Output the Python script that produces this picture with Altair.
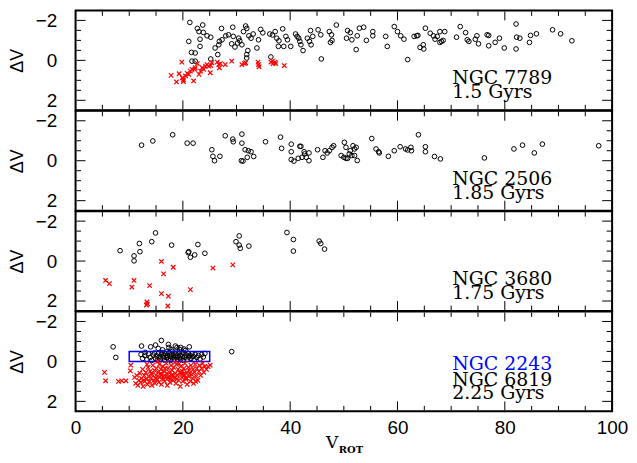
import altair as alt
import pandas as pd

# ---------------- axis / tick values ----------------
x_label_values = [0, 20, 40, 60, 80, 100]
x_major_ticks = [0, 20, 40, 60, 80, 100]
x_minor_ticks = [5, 10, 15, 25, 30, 35, 45, 50, 55, 65, 70, 75, 85, 90, 95]
y_label_values = [-2, 0, 2]
y_major_ticks = [-2, 0, 2]
y_minor_ticks = [-1.5, -1, -0.5, 0.5, 1, 1.5]

# ---------------- NGC 7789 ----------------
n7789_circ_x = [21.3, 21.1, 21.6, 22.3, 21.7, 22.3, 22.7, 23.0, 23.7, 23.2, 23.2, 23.8, 24.5, 25.2, 25.2,
                26.0, 26.5, 26.7, 26.8, 27.2, 27.3, 28.0, 28.5, 29.1, 29.3, 29.4, 29.7, 30.2, 30.4, 30.6,
                31.0, 31.3, 31.7, 31.9, 32.1, 31.9, 31.9, 32.3, 32.7, 33.1, 33.8, 34.1, 34.5, 34.9, 36.2,
                36.4, 36.7, 37.2, 37.5, 37.8, 37.9, 38.6, 38.8, 39.2, 39.5, 40.1, 41.0, 41.3, 41.6, 41.8,
                42.0, 42.4, 43.2, 43.6, 43.8, 43.9, 44.2,
                45.2, 45.7, 45.8, 47.3, 47.7, 47.5, 47.8, 48.6, 50.7, 51.2, 50.5, 51.5, 52.3, 52.5, 52.9,
                53.7, 54.2, 55.4, 55.4, 57.8, 58.1, 59.4, 60.0, 60.6, 61.2, 61.9, 63.1, 63.6, 63.8, 64.2,
                64.8, 64.9, 65.2, 66.1, 66.7, 67.0, 67.4, 67.9, 67.9, 68.2, 68.5, 68.8, 71.0, 71.7, 72.7,
                73.0, 73.3, 74.5, 74.8, 75.1, 76.7, 77.0, 77.0, 78.2, 79.0, 79.9, 82.1, 82.2, 82.1, 82.8,
                84.6, 84.8, 85.9, 88.9, 90.4, 92.5]
n7789_circ_y = [-1.9, -0.95, -0.4, -0.37, 0.04, 0.04, -1.6, -1.44, -1.77, -1.06, -0.7, -1.4, -1.23, -1.16, -0.07,
                -0.62, -0.29, -0.78, -0.95, -1.6, -1.03, -1.23, -1.28, -0.83, -1.66, -1.2, -0.67, -0.87, -1.11, -0.98,
                -0.78, -1.44, -1.72, -1.6, -0.49, -0.29, -0.12, -1.23, -1.11, -1.32, -0.62, -1.03, -1.55, -1.38, -1.32,
                -0.17, -1.27, -1.44, -1.11, -0.7, -0.98, -1.58, -0.7, -1.2, -1.03, -0.7, -1.32, -1.2, -1.11, -0.95,
                -0.78, -0.49, -1.11, -0.95, -1.49, -0.78, -1.2,
                -1.53, -1.28, -0.07, -1.44, -1.28, -0.9, -1.0, -1.77, -1.49, -1.39, -1.11, -1.03, -0.54, -1.23, -1.61,
                -1.66, -1.0, -1.44, -1.23, -1.2, -0.7, -1.69, -1.44, -1.23, -1.06, -0.04, -1.2, -1.23, -1.25, -0.65,
                -0.78, -0.57, -1.61, -1.36, -1.23, -1.06, -1.2, -1.44, -0.9, -0.95, -1.0, -1.44, -1.16, -1.69, -1.39,
                -1.03, -0.95, -1.06, -1.23, -0.83, -1.28, -1.25, -0.73, -0.9, -1.11, -0.62, -1.82, -1.16, -0.57, -1.11,
                -0.9, -1.25, -1.33, -1.53, -1.33, -0.98]
n7789_cross_x = [17.8, 18.8, 19.3, 19.8, 19.9, 20.1, 20.1, 20.5, 20.8, 21.1, 21.4, 21.7, 22.0, 22.2, 22.3,
                 22.7, 23.0, 23.3, 23.6, 23.9, 24.2, 24.5, 24.8, 25.1, 25.2, 25.4, 26.4, 26.7, 26.8, 27.0,
                 27.9, 29.1, 31.0, 31.5, 31.7, 34.0, 34.1, 34.2, 36.4, 36.8, 37.2, 37.3, 38.9, 36.7]
n7789_cross_y = [0.75, 1.08, 0.67, 0.09, 0.87, 0.98, 1.06, 0.78, 0.65, 0.70, 0.54, 0.45, 1.03, 0.45, 0.37,
                 0.16, 0.70, 0.54, 0.37, 0.45, 0.29, 0.21, 0.29, 0.62, 0.26, 0.12, 0.09, 0.21, 0.37, 0.16,
                 0.21, 0.04, 0.21, 0.16, 0.12, 0.09, 0.21, 0.32, 0.09, 0.16, 0.09, 0.16, 0.26, 0.04]

# ---------------- NGC 2506 ----------------
n2506_circ_x = [12.3, 14.4, 18.1, 20.8, 21.9, 25.4, 25.6, 25.9, 26.9, 27.9, 29.3, 29.4, 31.0, 31.0, 30.9,
                31.2, 31.6, 32.0, 32.2, 32.7, 33.2, 35.4, 38.2, 38.4, 40.2, 40.2, 40.2, 40.7, 41.5, 41.8,
                42.0, 42.2, 42.6, 42.7, 43.0, 43.5, 43.5, 45.1,
                46.1, 46.5, 46.9, 47.3, 47.8, 48.1, 50.1, 50.4, 49.5, 50.0, 50.4, 50.7, 51.0, 51.2, 51.5,
                51.7, 52.0, 52.3, 52.0, 52.5, 55.2, 56.0, 56.6, 56.5, 58.3, 59.4, 60.5, 61.5, 61.9, 62.5,
                62.6, 63.9, 65.2, 65.2, 66.9, 68.0, 76.2, 81.7, 83.3, 85.5, 87.0, 97.5]
n2506_circ_y = [-0.78, -0.99, -1.30, -0.88, -0.88, -0.55, -0.22, 0.0, -0.22, -1.25, -1.08, -0.95, -1.33, -0.88, 0.0,
                0.02, -0.55, -0.17, -0.5, -0.45, -0.21, -0.95, -1.18, -0.62, -0.83, -0.45, -0.06, 0.02, -0.12, -0.72,
                -0.72, -0.17, -0.45, -0.34, -0.17, -0.39, 0.0, -0.55,
                -0.17, -0.5, -0.39, -0.5, -0.67, -0.75, -0.92, -0.67, -0.26, -0.17, -0.12, -0.12, -0.34, -0.5, -0.26,
                -0.75, -0.59, -0.67, -0.26, -0.01, -1.11, -0.59, -0.39, -0.45, -0.22, -0.50, -0.70, -0.59, -0.54, -0.67,
                -0.5, -1.30, -0.70, -0.45, -0.21, -0.09, -0.14, -0.59, -0.78, -0.39, -0.83, -0.75]

# ---------------- NGC 3680 ----------------
n3680_circ_x = [8.3, 10.9, 10.9, 11.9, 12.0, 14.2, 14.9, 17.9, 21.0, 21.1, 21.4, 22.2, 22.8, 24.1, 29.9,
                30.5, 30.5, 30.7, 32.3, 39.4, 40.6, 40.6, 45.4, 45.7, 46.4]
n3680_circ_y = [-0.52, -0.26, -0.01, -0.88, -0.47, -0.97, -1.41, -0.80, -0.42, -0.47, -0.19, -0.31, -0.83, -0.39, -0.97,
                -1.26, -0.80, -0.64, -0.75, -1.43, -1.08, -0.50, -1.0, -0.88, -0.60]
n3680_cross_x = [5.6, 6.3, 10.5, 10.9, 13.8, 13.3, 13.4, 13.2, 16.0, 16.0, 16.4, 17.3, 17.2, 18.2, 21.4, 25.6, 29.3]
n3680_cross_y = [0.97, 1.13, 1.30, 0.97, 1.23, 2.05, 2.14, 2.2, 0.02, 1.63, 0.64, 1.76, 2.25, 0.31, 1.43, 0.35, 0.19]

# ---------------- NGC 6819 / NGC 2243 ----------------
n6819_circ_x = [7.0, 7.5, 12.3, 14.0, 14.9, 16.0, 17.3, 17.4, 18.6, 18.9, 19.6, 21.2, 29.1, 15.4, 20.2,
                12.2, 12.5, 12.9, 13.3, 13.6, 13.9, 14.2, 14.5, 14.7, 14.9, 15.1, 15.3, 15.5, 15.6, 15.8,
                16.0, 16.1, 16.3, 16.4, 16.6, 16.7, 16.9, 17.0, 17.1, 17.3, 17.4, 17.6, 17.7, 17.9, 18.0,
                18.1, 18.3, 18.4, 18.6, 18.7, 18.9, 19.0, 19.2, 19.3, 19.5, 19.6, 19.8, 19.9, 20.1, 20.2,
                20.4, 20.6, 20.8, 21.0, 21.1, 21.3, 21.5, 21.7, 21.9, 22.1, 22.3, 22.6, 22.9, 23.2, 23.5,
                23.8, 24.1, 13.0, 17.8, 16.2, 19.4, 20.5]
n6819_circ_y = [-0.73, -0.2, -0.77, -0.73, -0.82, -1.05, -0.85, -0.7, -0.77, -0.7, -0.7, -0.73, -0.49, -0.65, -0.62,
                -0.35, -0.15, -0.3, -0.1, -0.38, -0.2, -0.05, -0.32, -0.42, -0.15, -0.28, -0.08, -0.4, -0.22, -0.12,
                -0.35, -0.45, -0.18, -0.28, -0.06, -0.38, -0.2, -0.48, -0.3, -0.12, -0.42, -0.25, -0.05, -0.35, -0.18,
                -0.5, -0.28, -0.1, -0.4, -0.22, -0.32, -0.08, -0.45, -0.18, -0.3, -0.12, -0.38, -0.25, -0.05, -0.42,
                -0.2, -0.32, -0.1, -0.4, -0.22, -0.3, -0.15, -0.38, -0.25, -0.08, -0.35, -0.2, -0.3, -0.12, -0.35,
                -0.22, -0.4, -0.45, -0.6, -0.58, -0.6, -0.55]
n6819_cross_x = [5.4, 5.6, 8.0, 8.6, 9.4, 10.2, 10.3,
                 11.0, 11.2, 11.4, 11.6, 11.8, 12.0, 12.1, 12.3, 12.5, 12.6, 12.8, 12.9, 13.1, 13.2, 13.4,
                 13.5, 13.6, 13.8, 13.9, 14.0, 14.2, 14.3, 14.4, 14.6, 14.7, 14.8, 15.0, 15.1, 15.2, 15.4,
                 15.5, 15.6, 15.7, 15.9, 16.0, 16.1, 16.2, 16.4, 16.5, 16.6, 16.8, 16.9, 17.0, 17.1, 17.2,
                 17.4, 17.5, 17.6, 17.8, 17.9, 18.0, 18.2, 18.3, 18.4, 18.6, 18.7, 18.8, 19.0, 19.1, 19.2,
                 19.4, 19.5, 19.6, 19.8, 19.9, 20.0, 20.2, 20.3, 20.4, 20.6, 20.7, 20.8, 21.0, 21.1, 21.2,
                 21.4, 21.5, 21.6, 21.8, 21.9, 22.0, 22.2, 22.3, 22.5, 22.6, 22.8, 23.0, 23.1, 23.3, 23.5,
                 23.7, 23.9, 24.1, 24.4, 24.7, 25.1, 15.3, 18.5, 13.3, 16.7, 19.3,
                 14.1, 15.8, 17.3, 18.1, 19.7, 20.5, 16.3, 17.7, 18.9, 20.1, 14.9, 21.3, 12.7, 22.4]
n6819_cross_y = [0.55, 0.97, 1.0, 0.97, 0.97, 0.47, 0.19,
                 0.8, 1.1, 0.7, 1.2, 0.95, 0.6, 1.05, 0.85, 0.4, 1.25, 0.7, 1.0, 0.55, 0.9, 1.15,
                 0.3, 0.75, 1.0, 0.5, 0.85, 1.2, 0.65, 0.2, 0.95, 0.45, 1.1, 0.7, 0.35, 0.9, 0.55,
                 1.05, 0.15, 0.8, 0.4, 1.15, 0.65, 0.25, 0.9, 0.5, 1.0, 0.75, 0.1, 0.6, 1.2, 0.35,
                 0.85, 0.55, 1.05, 0.2, 0.7, 0.45, 0.95, 0.3, 0.8, 0.6, 1.1, 0.15, 0.7, 0.4, 0.95,
                 0.55, 1.25, 0.25, 0.8, 0.5, 1.0, 0.35, 0.7, 0.1, 0.9, 0.55, 1.15, 0.3, 0.75, 0.45,
                 1.0, 0.2, 0.65, 0.85, 0.4, 1.1, 0.55, 0.15, 0.75, 0.35, 0.95, 0.5, 0.2, 0.7, 0.35,
                 0.1, 0.55, 0.25, 0.4, 0.26, 0.19, 0.0, 0.05, 0.15, 0.35, 0.12,
                 0.6, 0.62, 0.78, 0.65, 0.6, 0.82, 0.78, 0.88, 0.88, 0.62, 0.85, 0.6, 0.95, 1.0]

# blue box marking NGC 2243 locus
box_x = [10]
box_x2 = [25]
box_y = [-0.5]
box_y2 = [0]

# panel annotations
panel_labels = [
    [("NGC 7789", "black"), ("1.5 Gyrs", "black")],
    [("NGC 2506", "black"), ("1.85 Gyrs", "black")],
    [("NGC 3680", "black"), ("1.75 Gyrs", "black")],
    [("NGC 2243", "blue"), ("NGC 6819", "black"), ("2.25 Gyrs", "black")],
]

# ---------------- layout ----------------
W, H = 540, 100.5
SANS = "Liberation Sans"
SERIF = "DejaVu Serif"
MAJ, MIN = 10, 5.5

xscale = alt.Scale(domain=[0, 100], nice=False, zero=False)
yscale = alt.Scale(domain=[-2.5, 2.5], reverse=True, nice=False, zero=False)

yaxis = alt.Axis(values=y_label_values, ticks=False, domain=False, grid=False,
                 labelPadding=19, labelFontSize=19, labelFont=SANS, labelColor="black",
                 title="ΔV", titleFont=SANS, titleFontSize=18, titleFontWeight="normal",
                 titleColor="black", titleX=-58, titleY=H / 2, titleAngle=270,
                 titleBaseline="middle", titleAlign="center")


def xaxis(bottom):
    if bottom:
        return alt.Axis(values=x_label_values, ticks=False, domain=False, grid=False,
                        labelPadding=7, labelFontSize=19, labelFont=SANS, labelColor="black",
                        labelFlush=False, title=None)
    return None


def X(bottom):
    return alt.X("x:Q", scale=xscale, axis=xaxis(bottom))


def Y():
    return alt.Y("y:Q", scale=yscale, axis=yaxis)


def pts(xs, ys):
    return pd.DataFrame({"x": xs, "y": ys})


def circles(xs, ys, bottom):
    return alt.Chart(pts(xs, ys)).mark_point(
        shape="circle", filled=False, color="black", size=22, strokeWidth=1, opacity=1
    ).encode(x=X(bottom), y=Y())


def crosses(xs, ys, bottom):
    return alt.Chart(pts(xs, ys)).mark_point(
        shape="M-1,-1L1,1M-1,1L1,-1", filled=False, color="red", size=20,
        strokeWidth=1.2, opacity=1
    ).encode(x=X(bottom), y=Y())


def tick_layers(bottom):
    layers = []
    for vals, ln in ((x_major_ticks, MAJ), (x_minor_ticks, MIN)):
        d = pd.DataFrame({"x": vals})
        layers.append(alt.Chart(d).mark_rule(color="black", strokeWidth=1).encode(
            x=X(bottom), y=alt.value(1), y2=alt.value(ln)))
        layers.append(alt.Chart(d).mark_rule(color="black", strokeWidth=1).encode(
            x=X(bottom), y=alt.value(H - 1), y2=alt.value(H - ln)))
    for vals, ln in ((y_major_ticks, MAJ), (y_minor_ticks, MIN)):
        d = pd.DataFrame({"y": vals})
        layers.append(alt.Chart(d).mark_rule(color="black", strokeWidth=1).encode(
            y=Y(), x=alt.value(1), x2=alt.value(ln)))
        layers.append(alt.Chart(d).mark_rule(color="black", strokeWidth=1).encode(
            y=Y(), x=alt.value(W - 1), x2=alt.value(W - ln)))
    return layers


def text_layers(labels):
    baselines = [88.5, 74.5, 58.5]
    out = []
    n = len(labels)
    for i, (txt, col) in enumerate(labels):
        yb = baselines[n - 1 - i]
        d = pd.DataFrame({"label": [txt]})
        out.append(alt.Chart(d).mark_text(
            align="left", baseline="alphabetic", font=SERIF, fontSize=19, color=col
        ).encode(x=alt.value(379), y=alt.value(yb), text="label:N"))
    return out


def panel(layers, labels, bottom=False):
    ls = tick_layers(bottom) + layers + text_layers(labels)
    return alt.layer(*ls).properties(width=W, height=H)


p1 = panel([circles(n7789_circ_x, n7789_circ_y, False),
            crosses(n7789_cross_x, n7789_cross_y, False)], panel_labels[0])
p2 = panel([circles(n2506_circ_x, n2506_circ_y, False)], panel_labels[1])
p3 = panel([circles(n3680_circ_x, n3680_circ_y, False),
            crosses(n3680_cross_x, n3680_cross_y, False)], panel_labels[2])

box = alt.Chart(pd.DataFrame({"x": box_x, "x2": box_x2, "y": box_y, "y2": box_y2})).mark_rect(
    filled=False, stroke="blue", strokeWidth=1.5
).encode(x=X(True), x2="x2:Q", y=Y(), y2="y2:Q")

xtitle = [
    alt.Chart(pd.DataFrame({"label": ["V"]})).mark_text(
        align="left", baseline="alphabetic", font=SERIF, fontSize=17, color="black"
    ).encode(x=alt.value(252), y=alt.value(H + 37), text="label:N"),
    alt.Chart(pd.DataFrame({"label": ["ROT"]})).mark_text(
        align="left", baseline="alphabetic", font=SERIF, fontSize=10, fontWeight="bold", color="black"
    ).encode(x=alt.value(265), y=alt.value(H + 42), text="label:N"),
]

p4 = panel([circles(n6819_circ_x, n6819_circ_y, True), box,
            crosses(n6819_cross_x, n6819_cross_y, True)] + xtitle, panel_labels[3], bottom=True)

chart = alt.vconcat(p1, p2, p3, p4, spacing=0, bounds="flush").properties(
    padding={"left": 0, "top": 0, "right": 0, "bottom": 0},
    background="white",
).configure_view(stroke="black", strokeWidth=2)

chart.save("out.html", embed_options={"renderer": "svg", "actions": False})
